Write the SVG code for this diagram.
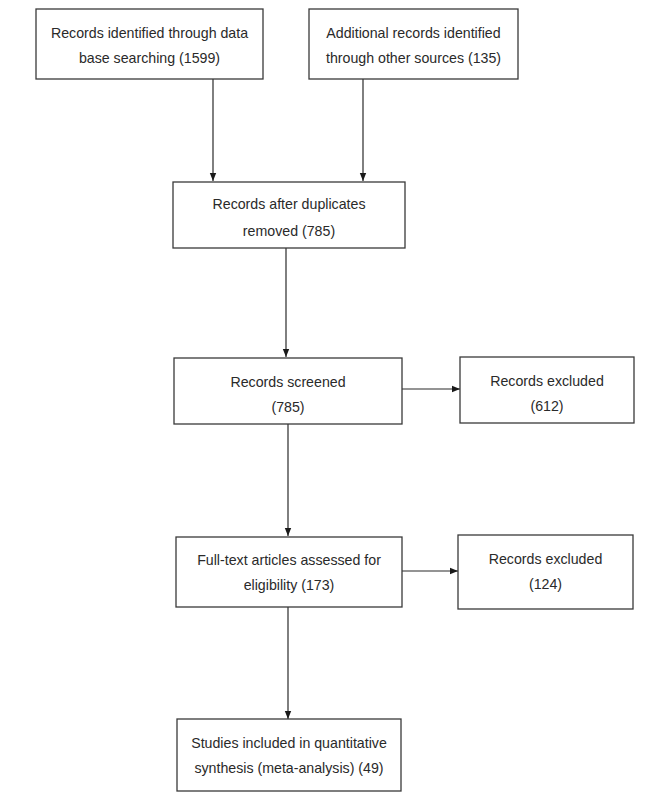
<svg xmlns="http://www.w3.org/2000/svg" width="666" height="799" viewBox="0 0 666 799">
<style>
.b{fill:#fff;stroke:#3a3a3a;stroke-width:1.3}
text{font-family:"Liberation Sans",Arial,sans-serif;font-size:14.2px;fill:#2a2a2a;text-anchor:middle}
.c{stroke:#2a2a2a;stroke-width:1.2;fill:none}
</style>
<defs>
<marker id="ah" viewBox="0 0 10 10" refX="10" refY="5" markerWidth="8" markerHeight="8" markerUnits="userSpaceOnUse" orient="auto">
<path d="M0,1 L10,5 L0,9 Z" fill="#1a1a1a"/>
</marker>
</defs>
<rect width="666" height="799" fill="#fff"/>
<g id="connectors">
<line class="c" x1="213" y1="79" x2="213" y2="181" marker-end="url(#ah)"/>
<line class="c" x1="363" y1="79" x2="363" y2="181" marker-end="url(#ah)"/>
<line class="c" x1="286" y1="248" x2="286" y2="357" marker-end="url(#ah)"/>
<line class="c" x1="402" y1="389" x2="460" y2="389" marker-end="url(#ah)"/>
<line class="c" x1="288" y1="424" x2="288" y2="536" marker-end="url(#ah)"/>
<line class="c" x1="402" y1="571" x2="458" y2="571" marker-end="url(#ah)"/>
<line class="c" x1="288" y1="607" x2="288" y2="719" marker-end="url(#ah)"/>
</g>
<g id="n1"><rect class="b" x="36" y="9" width="227" height="70"/><text x="149.5" y="38">Records identified through data</text><text x="149.5" y="63">base searching (1599)</text></g>
<g id="n2"><rect class="b" x="309" y="9" width="209" height="70"/><text x="413.5" y="38">Additional records identified</text><text x="413.5" y="63">through other sources (135)</text></g>
<g id="n3"><rect class="b" x="173" y="182" width="232" height="66"/><text x="289" y="209">Records after duplicates</text><text x="289" y="236">removed (785)</text></g>
<g id="n4"><rect class="b" x="174" y="358" width="228" height="66"/><text x="288" y="387">Records screened</text><text x="288" y="412">(785)</text></g>
<g id="n5"><rect class="b" x="460" y="357" width="174" height="66"/><text x="547" y="386">Records excluded</text><text x="547" y="411">(612)</text></g>
<g id="n6"><rect class="b" x="176" y="537" width="226" height="70"/><text x="289" y="565">Full-text articles assessed for</text><text x="289" y="590">eligibility (173)</text></g>
<g id="n7"><rect class="b" x="458" y="535" width="175" height="74"/><text x="545.5" y="564">Records excluded</text><text x="545.5" y="589">(124)</text></g>
<g id="n8"><rect class="b" x="177" y="719" width="224" height="72"/><text x="289" y="748">Studies included in quantitative</text><text x="289" y="773">synthesis (meta-analysis) (49)</text></g>
</svg>
